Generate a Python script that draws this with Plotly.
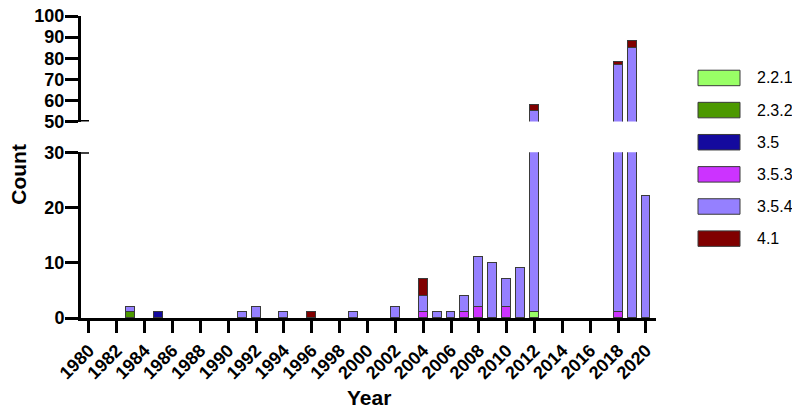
import plotly.graph_objects as go

years = list(range(1980, 2021))
series_names = ["2.2.1", "2.3.2", "3.5", "3.5.3", "3.5.4", "4.1"]
series_colors = ["#99FF66", "#4C9900", "#140A9E", "#CC33FF", "#9580FF", "#800000"]

s_2_2_1 = {2012: 1}
s_2_3_2 = {1983: 1}
s_3_5 = {1985: 1}
s_3_5_3 = {2004: 1, 2007: 1, 2008: 2, 2010: 2, 2018: 1}
s_3_5_4 = {1983: 1, 1991: 1, 1992: 2, 1994: 1, 1999: 1, 2002: 2, 2004: 3, 2005: 1,
           2006: 1, 2007: 3, 2008: 9, 2009: 10, 2010: 5, 2011: 9, 2012: 54,
           2018: 76, 2019: 85, 2020: 22}
s_4_1 = {1996: 1, 2004: 3, 2012: 3, 2018: 1, 2019: 3}
series_values = [s_2_2_1, s_2_3_2, s_3_5, s_3_5_3, s_3_5_4, s_4_1]

x_ticks = list(range(1980, 2021, 2))
lower_ticks = [0, 10, 20, 30]
upper_ticks = [50, 60, 70, 80, 90, 100]

FONT = "Arial, Liberation Sans, sans-serif"

fig = go.Figure()
for name, color, vals in zip(series_names, series_colors, series_values):
    xs = [y for y in years if y in vals]
    ys = [vals[y] for y in xs]
    for xa, ya in (("x", "y"), ("x2", "y2")):
        fig.add_trace(go.Bar(
            x=xs, y=ys, name=name, xaxis=xa, yaxis=ya,
            marker=dict(color=color, line=dict(color="#3a3a3a", width=1)),
            width=0.64, showlegend=False,
        ))

# plot area geometry (pixels)
L, R, T, B = 81, 136, 6, 96
W, H = 792 - L - R, 414 - T - B

axis_common = dict(showline=True, linewidth=3, linecolor="black", ticks="outside",
                   tickwidth=3, tickcolor="black", showgrid=False, zeroline=False,
                   tickfont=dict(family=FONT, size=18, color="black", weight="bold"))

fig.update_layout(
    width=792, height=414,
    margin=dict(l=L, r=R, t=T, b=B),
    barmode="stack", bargap=0,
    plot_bgcolor="white", paper_bgcolor="white",
    showlegend=False,
    xaxis=dict(anchor="y", domain=[0, 1], range=[1979.43, 2020.72],
               tickvals=x_ticks, ticktext=[str(v) for v in x_ticks], tickangle=-45,
               ticklen=12, **axis_common),
    xaxis2=dict(anchor="y2", matches="x", visible=False, domain=[0, 1]),
    yaxis=dict(domain=[0, (318 - 146.7) / H], range=[0, 30], tickvals=lower_ticks,
               ticklen=13, ticklabelstandoff=-3, **axis_common),
    yaxis2=dict(domain=[(318 - 115) / H, 1], range=[50, 100], tickvals=upper_ticks,
                ticklen=13, ticklabelstandoff=-3, **axis_common),
)

# axis break marks
bx = 8 / W
fig.add_shape(type="line", xref="x domain", yref="y2", x0=0, x1=bx, y0=50, y1=50,
              line=dict(color="black", width=3))
fig.add_shape(type="line", xref="x domain", yref="y", x0=0, x1=bx, y0=30, y1=30,
              line=dict(color="black", width=3))

# axis titles
fig.add_annotation(text="Count", xref="paper", yref="paper", x=(19 - L) / W,
                   y=(318 - 170) / H, textangle=-90, showarrow=False,
                   xanchor="center", yanchor="middle",
                   font=dict(family=FONT, size=21, color="black", weight="bold"))
fig.add_annotation(text="Year", xref="paper", yref="paper", x=0.5, y=(318 - 400) / H,
                   showarrow=False, xanchor="center", yanchor="middle",
                   font=dict(family=FONT, size=21, color="black", weight="bold"))

# legend (drawn manually to match swatch sizes)
row0, step = 70, 33.2
for i, (name, color) in enumerate(zip(series_names, series_colors)):
    cy = row0 + i * step
    fig.add_shape(type="rect", xref="paper", yref="paper",
                  x0=(698 - L) / W, x1=(740 - L) / W,
                  y0=(318 - (cy + 8)) / H, y1=(318 - (cy - 8)) / H,
                  fillcolor=color, line=dict(color="#3a3a3a", width=1))
    fig.add_annotation(text=name, xref="paper", yref="paper", x=(755 - L) / W,
                       y=(318 - cy) / H, showarrow=False, xanchor="left", yanchor="middle",
                       font=dict(family=FONT, size=16, color="black"))

# remove the default page margin so the 792x414 figure fills the window exactly
fig.write_html("out.html", config={"displayModeBar": False},
               post_script="document.body.style.margin='0';")
